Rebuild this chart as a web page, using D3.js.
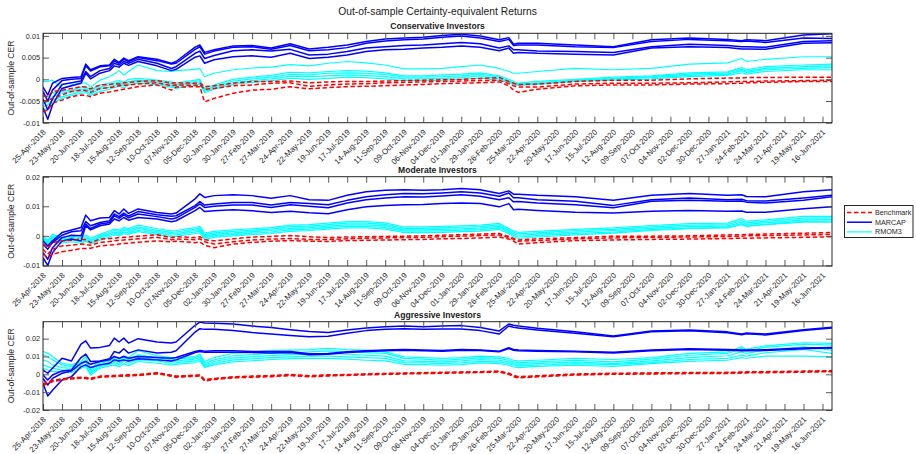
<!DOCTYPE html>
<html>
<head>
<meta charset="utf-8">
<script src="https://cdn.jsdelivr.net/npm/d3@7"></script>
<style>
  html, body { margin: 0; padding: 0; background: #fff; }
  svg { display: block; font-family: "Liberation Sans", Arial, Helvetica, sans-serif; }
</style>
</head>
<body>
<svg id="chart" width="916" height="454"></svg>
<script>
// Observation dates shared by every series
const dates = [
  "2018-04-25","2018-05-02","2018-05-09","2018-05-23","2018-06-06","2018-06-20","2018-06-27","2018-07-04","2018-07-18","2018-08-01",
  "2018-08-08","2018-08-15","2018-08-22","2018-08-29","2018-09-12","2018-10-10","2018-10-31","2018-11-07","2018-12-05","2018-12-12",
  "2018-12-19","2019-01-02","2019-01-30","2019-02-27","2019-03-27","2019-04-24","2019-05-22","2019-06-19","2019-07-17","2019-08-14",
  "2019-09-11","2019-10-09","2019-11-06","2019-12-04","2020-01-01","2020-01-29","2020-02-26","2020-03-11","2020-03-18","2020-03-25",
  "2020-04-22","2020-06-17","2020-08-12","2020-10-07","2020-12-02","2021-01-27","2021-02-17","2021-02-24","2021-03-24","2021-05-19",
  "2021-06-30"
];

// Date axis ticks (every four weeks)
const tickDates = [
  "2018-04-25","2018-05-23","2018-06-20","2018-07-18","2018-08-15","2018-09-12","2018-10-10","2018-11-07","2018-12-05","2019-01-02",
  "2019-01-30","2019-02-27","2019-03-27","2019-04-24","2019-05-22","2019-06-19","2019-07-17","2019-08-14","2019-09-11","2019-10-09",
  "2019-11-06","2019-12-04","2020-01-01","2020-01-29","2020-02-26","2020-03-25","2020-04-22","2020-05-20","2020-06-17","2020-07-15",
  "2020-08-12","2020-09-09","2020-10-07","2020-11-04","2020-12-02","2020-12-30","2021-01-27","2021-02-24","2021-03-24","2021-04-21",
  "2021-05-19","2021-06-16"
];

// CER values are stored in units of 1e-3
const UNIT = 1e-3;

// ---------- Conservative investors ----------
const consBenchmark = [
  [-3.8,-4.0,-2.8,-2.5,-2.1,-1.7,-1.8,-2.2,-1.3,-1.2,
   -1.0,-1.1,-0.8,-0.7,-0.5,-0.3,-0.9,-0.8,-0.9,-0.9,
   -1.7,-1.5,-0.9,-0.5,-0.5,-0.4,-0.8,-0.6,-0.5,-0.5,
   -0.4,-0.3,-0.2,-0.1,0.0,0.2,0.4,-0.5,-0.9,-1.2,
   -1.1,-0.5,-0.2,-0.2,0.1,0.3,0.3,0.4,0.4,0.5,
   0.5],
  [-5.0,-4.9,-4.4,-3.6,-2.8,-2.5,-2.6,-3.0,-2.1,-1.9,
   -1.7,-1.5,-1.4,-1.3,-1.1,-0.8,-1.5,-1.3,-1.4,-1.3,
   -2.3,-2.1,-1.5,-1.3,-0.9,-0.8,-1.6,-1.3,-1.1,-1.0,
   -0.8,-0.7,-0.6,-0.5,-0.4,-0.3,-0.2,-1.0,-1.5,-1.8,
   -1.8,-1.1,-0.9,-0.9,-0.8,-0.6,-0.5,-0.5,-0.4,-0.3,
   -0.2],
  [-7.5,-7.1,-5.5,-4.8,-4.0,-3.6,-3.7,-4.0,-3.2,-2.9,
   -2.7,-2.5,-2.3,-2.1,-1.7,-1.3,-2.5,-1.8,-1.7,-1.7,
   -5.2,-4.4,-3.2,-2.5,-2.3,-1.7,-2.2,-1.9,-1.7,-1.6,
   -1.5,-1.3,-1.2,-1.0,-0.9,-0.8,-0.6,-1.5,-2.5,-3.0,
   -2.3,-1.5,-1.3,-1.3,-1.1,-1.0,-0.9,-0.8,-0.7,-0.5,
   -0.5]
];
const consMarcap = [
  [-1.8,-3.6,-0.9,0.2,0.4,0.6,3.5,2.2,3.1,3.3,
   4.6,3.9,4.9,4.3,5.2,4.6,3.7,4.1,7.4,7.9,
   6.2,6.8,7.7,7.8,7.2,8.2,7.0,7.4,7.9,8.7,
   9.3,9.5,9.7,10.1,10.4,10.0,9.1,9.6,8.1,8.3,
   8.3,7.9,7.5,9.1,9.5,9.2,8.9,9.1,8.9,10.2,
   10.5],
  [-2.8,-5.0,-2.5,-0.3,0.0,0.2,3.1,1.9,2.9,3.1,
   4.2,3.7,4.6,4.1,5.0,4.3,3.5,3.7,6.9,7.5,
   5.8,6.5,7.4,7.5,6.9,7.8,6.6,6.8,7.3,8.3,
   8.8,9.1,9.3,9.7,10.0,9.5,8.7,9.2,7.8,7.9,
   7.9,7.5,7.3,8.7,9.2,8.9,8.7,8.8,8.5,9.5,
   9.4],
  [-4.5,-7.0,-4.5,-1.2,-0.8,-0.4,1.8,0.6,2.0,2.5,
   3.7,3.3,4.1,3.7,4.6,3.7,2.5,2.9,6.0,6.5,
   4.8,5.5,6.6,6.8,6.5,6.9,5.6,5.8,6.4,7.2,
   7.5,7.8,7.9,8.2,8.5,8.2,7.2,7.7,6.8,6.8,
   6.5,6.4,6.2,7.5,8.1,7.8,7.5,7.5,7.4,8.7,
   8.9],
  [-6.5,-9.2,-5.9,-2.1,-1.5,-0.9,1.4,0.1,1.4,2.0,
   3.1,2.8,3.7,3.2,4.1,3.1,2.0,2.3,5.1,5.4,
   3.7,4.5,5.2,5.4,5.1,6.0,4.8,5.1,5.6,6.4,
   6.8,6.9,7.2,7.4,7.7,7.4,6.6,7.2,6.0,6.2,
   6.0,5.8,5.6,7.2,7.5,7.3,7.0,7.0,6.9,8.3,
   8.4]
];
const consRmom = [
  [-0.5,-0.5,-0.2,-2.1,-1.3,-0.9,-0.8,-1.8,-0.2,0.6,
   1.2,2.0,1.0,1.8,3.3,2.0,1.8,2.0,2.3,2.5,
   0.6,1.4,2.2,2.6,2.8,3.4,3.1,3.7,4.1,3.8,
   3.3,2.4,2.4,2.5,2.9,3.3,2.5,1.8,1.4,1.4,
   1.8,2.5,2.2,2.5,3.5,3.8,4.8,4.1,4.6,5.2,
   5.2],
  [-4.0,-4.0,-3.2,-2.8,-2.5,-1.8,-1.7,-2.5,-1.3,-0.9,
   -0.5,-0.3,-0.7,0.0,0.2,-0.2,-0.6,-0.9,-0.2,0.0,
   -2.1,-1.3,0.0,0.5,0.9,1.6,1.5,1.8,2.0,1.9,
   1.5,0.8,0.8,1.0,1.2,1.5,0.8,0.0,-0.5,-0.9,
   -0.5,0.0,0.5,0.8,1.5,1.7,2.7,2.2,2.9,3.3,
   3.5],
  [-5.5,-5.2,-4.0,-3.2,-2.8,-2.3,-2.2,-2.8,-1.8,-1.3,
   -0.9,-0.7,-1.1,-0.5,-0.2,-0.5,-1.0,-1.3,-0.5,-0.3,
   -2.5,-1.7,-0.4,0.1,0.5,1.1,1.0,1.4,1.5,1.4,
   1.1,0.5,0.5,0.6,0.8,1.2,0.5,-0.3,-0.8,-1.1,
   -0.8,-0.2,0.2,0.6,1.2,1.5,2.3,1.9,2.5,2.9,
   3.1],
  [-6.3,-5.9,-4.8,-4.0,-3.4,-2.8,-2.7,-3.4,-2.3,-1.8,
   -1.4,-1.1,-1.5,-0.9,-0.5,-0.9,-1.4,-1.7,-0.8,-0.8,
   -2.8,-2.1,-0.8,-0.3,0.1,0.7,0.6,0.8,1.0,0.9,
   0.6,0.1,0.1,0.2,0.4,0.8,0.1,-0.5,-0.9,-1.2,
   -1.0,-0.3,0.1,0.4,0.9,1.2,2.0,1.6,2.2,2.5,
   2.7],
  [-7.1,-6.7,-5.5,-4.4,-3.8,-3.2,-3.1,-3.7,-2.8,-2.3,
   -1.9,-1.6,-2.0,-1.3,-0.9,-1.3,-1.8,-2.1,-1.2,-1.2,
   -3.1,-2.3,-1.2,-0.7,-0.3,0.2,0.0,0.2,0.5,0.4,
   0.1,-0.3,-0.3,-0.2,0.0,0.3,-0.3,-0.7,-1.2,-1.4,
   -1.2,-0.5,-0.2,0.1,0.6,0.9,1.5,1.2,1.8,2.2,
   2.2]
];

// ---------- Moderate investors ----------
const modBenchmark = [
  [-2.8,-4.0,-2.3,-1.7,-1.5,-1.1,-1.3,-2.3,-1.1,-0.9,
   -0.8,-0.6,-0.5,-0.4,-0.1,0.4,-0.6,-0.3,-0.6,-0.3,
   -1.3,-1.7,-1.0,-0.4,-0.2,0.1,-0.3,-0.6,-0.4,-0.3,
   -0.2,-0.1,0.0,0.2,0.4,0.6,0.8,-0.2,-0.9,-1.4,
   -1.0,-0.6,-0.1,-0.1,0.0,0.3,0.4,0.5,0.6,0.9,
   1.1],
  [-4.5,-6.2,-4.5,-3.4,-3.2,-2.8,-2.9,-3.2,-2.2,-1.9,
   -1.7,-1.5,-1.4,-1.3,-1.0,-0.5,-1.3,-1.1,-1.3,-1.0,
   -2.0,-2.8,-2.0,-1.4,-1.1,-0.9,-1.2,-1.2,-1.0,-0.8,
   -0.7,-0.6,-0.5,-0.3,-0.1,0.1,0.3,-0.6,-1.2,-1.8,
   -1.6,-1.0,-0.7,-0.5,-0.4,-0.2,-0.1,0.0,0.1,0.3,
   0.5],
  [-6.2,-7.4,-6.2,-5.4,-4.9,-4.3,-4.3,-4.2,-3.4,-3.1,
   -3.0,-2.8,-2.6,-2.5,-2.2,-1.7,-2.0,-1.8,-2.3,-2.0,
   -3.2,-4.0,-2.8,-2.2,-1.8,-1.6,-1.8,-1.9,-1.6,-1.5,
   -1.4,-1.3,-1.2,-1.0,-0.9,-0.7,-0.4,-1.1,-1.8,-2.8,
   -2.3,-1.6,-1.4,-1.2,-1.1,-0.9,-0.8,-0.8,-0.7,-0.5,
   -0.3]
];
const modMarcap = [
  [-1.7,-3.4,-1.7,1.1,2.0,2.8,7.0,5.1,6.0,6.2,
   8.5,7.4,9.1,7.6,9.1,7.9,7.4,7.7,12.5,14.2,
   13.0,13.6,13.9,13.6,12.7,13.6,12.2,12.0,13.7,14.9,
   15.4,15.6,15.4,15.6,16.0,15.6,14.3,15.2,14.1,14.1,
   13.7,13.2,12.0,13.7,14.3,13.7,13.9,13.3,13.2,14.9,
   15.6],
  [-2.8,-4.5,-2.3,0.2,1.4,1.7,4.8,3.4,4.5,5.1,
   7.4,6.5,7.7,6.7,8.2,7.1,6.6,6.8,10.2,11.6,
   10.4,10.8,11.3,11.3,10.4,11.3,10.9,10.5,12.0,13.2,
   13.9,14.3,14.2,14.5,14.9,14.5,13.4,14.5,12.9,12.9,
   12.2,11.7,10.3,12.2,12.8,12.2,12.4,11.9,11.8,12.8,
   13.7],
  [-5.7,-7.9,-4.0,-0.6,0.2,0.0,4.0,2.5,4.0,4.5,
   6.8,5.9,7.1,6.1,7.4,6.5,5.7,6.0,9.6,10.8,
   9.6,10.0,10.4,10.4,9.6,10.5,10.0,9.5,11.1,12.2,
   12.8,13.2,13.1,13.5,13.9,13.4,12.2,12.9,11.5,11.6,
   11.1,10.5,9.5,11.7,12.0,11.7,11.8,11.4,11.1,12.0,
   13.2],
  [-7.4,-10.0,-5.7,-1.7,-1.1,-1.7,3.4,2.0,3.4,4.0,
   5.7,5.1,6.2,5.3,6.2,5.7,4.8,5.1,8.5,9.6,
   8.2,8.5,8.8,8.5,7.9,8.3,7.8,7.5,8.8,9.8,
   10.3,10.5,10.6,10.9,11.1,10.9,9.8,10.9,8.8,9.0,
   8.6,8.0,7.7,8.3,8.6,8.3,8.4,8.0,8.0,9.2,
   9.8]
];
const modRmom = [
  [0.0,-1.5,0.5,-0.5,0.0,-0.5,0.3,-0.8,0.5,1.7,
   2.3,2.0,2.8,2.5,3.6,2.4,1.7,1.8,2.8,3.2,
   0.9,1.5,2.0,2.4,2.8,3.6,3.8,4.3,4.8,4.8,
   4.4,3.0,3.0,3.2,3.4,3.6,4.2,2.5,1.7,1.2,
   1.5,2.2,2.7,3.5,4.1,4.3,5.8,5.0,5.4,6.6,
   6.6],
  [-0.3,-2.0,0.0,-1.0,-0.5,-1.0,-0.3,-1.3,0.0,1.2,
   1.8,1.5,2.3,2.0,3.0,1.9,1.2,1.3,2.3,2.6,
   0.3,1.0,1.5,1.9,2.3,3.1,3.3,3.8,4.3,4.3,
   3.9,2.5,2.5,2.7,2.9,3.1,3.7,2.0,1.2,0.7,
   1.0,1.8,2.2,3.0,3.6,3.8,5.2,4.4,4.9,6.0,
   6.1],
  [-0.6,-2.5,-0.5,-1.5,-1.0,-1.5,-0.8,-1.7,-0.5,0.7,
   1.3,1.0,1.8,1.5,2.5,1.4,0.7,0.8,1.8,2.1,
   -0.2,0.5,1.0,1.4,1.8,2.5,2.8,3.3,3.7,3.7,
   3.4,2.0,2.0,2.2,2.4,2.6,3.2,1.6,0.7,0.2,
   0.6,1.3,1.8,2.5,3.1,3.3,4.6,3.9,4.4,5.4,
   5.5],
  [-0.9,-3.0,-1.0,-2.0,-1.5,-2.0,-1.3,-2.2,-1.0,0.2,
   0.8,0.5,1.2,1.0,1.9,0.9,0.2,0.3,1.3,1.6,
   -0.7,0.0,0.5,0.9,1.3,2.0,2.3,2.8,3.2,3.2,
   2.8,1.6,1.6,1.7,1.9,2.1,2.7,1.1,0.2,-0.4,
   0.1,0.8,1.3,2.1,2.6,2.9,4.1,3.4,3.9,4.9,
   5.0],
  [-1.2,-3.5,-1.5,-2.5,-2.0,-2.5,-1.8,-2.7,-1.5,-0.3,
   0.3,0.0,0.7,0.5,1.4,0.4,-0.3,-0.2,0.8,1.0,
   -1.2,-0.5,0.0,0.4,0.8,1.5,1.8,2.3,2.7,2.7,
   2.3,1.1,1.1,1.2,1.4,1.6,2.2,0.6,-0.3,-0.9,
   -0.4,0.3,0.9,1.8,2.4,2.7,3.8,3.2,3.8,4.6,
   4.6]
];

// ---------- Aggressive investors ----------
const aggBenchmark = [
  [-5.5,-4.2,-3.5,-2.5,-2.0,-1.6,-1.8,-2.3,-1.0,-0.8,
   -0.6,-0.5,-0.4,-0.3,-0.1,0.9,-0.5,-1.0,-0.5,-0.3,
   -2.9,-2.3,-1.4,-1.0,-0.7,-0.1,-0.8,-0.3,-0.1,0.2,
   0.5,0.7,0.9,1.1,1.3,1.5,1.8,0.6,-0.5,-1.3,
   -0.8,0.2,0.6,0.8,1.0,1.1,1.3,1.4,1.5,1.8,
   2.1],
  [-6.0,-4.5,-3.8,-2.8,-2.3,-1.9,-2.1,-2.6,-1.3,-1.1,
   -0.9,-0.8,-0.7,-0.6,-0.4,0.6,-0.8,-1.3,-0.8,-0.6,
   -3.2,-2.6,-1.7,-1.3,-1.0,-0.4,-1.1,-0.6,-0.3,0.0,
   0.3,0.5,0.7,0.9,1.1,1.3,1.6,0.3,-0.9,-1.7,
   -1.1,-0.1,0.3,0.5,0.7,0.8,1.0,1.1,1.2,1.5,
   1.8],
  [-6.4,-4.9,-4.2,-3.1,-2.6,-2.2,-2.4,-2.9,-1.6,-1.4,
   -1.2,-1.1,-1.0,-0.9,-0.7,0.3,-1.1,-1.6,-1.1,-0.9,
   -3.8,-2.9,-2.0,-1.6,-1.3,-0.7,-1.4,-0.9,-0.6,-0.3,
   0.0,0.2,0.4,0.6,0.8,1.0,1.3,0.0,-1.3,-2.0,
   -1.4,-0.4,0.0,0.2,0.4,0.5,0.7,0.8,0.9,1.2,
   1.5]
];
const aggMarcap = [
  [2.4,0.6,3.4,9.0,7.5,16.9,18.8,14.7,15.1,16.2,
   20.3,18.1,20.3,17.5,20.0,18.1,17.5,18.1,27.5,29.3,
   28.8,28.7,28.2,27.1,26.2,25.0,24.0,23.4,24.9,26.0,
   26.7,27.1,26.7,27.1,27.3,26.2,24.3,28.2,27.5,27.1,
   25.8,23.9,21.5,24.3,24.9,23.8,22.6,23.2,22.6,25.0,
   26.4],
  [-0.4,-3.2,-0.4,1.9,2.4,9.4,11.3,7.2,7.5,8.7,
   12.8,11.9,14.3,11.9,13.7,11.9,12.4,13.2,23.7,25.6,
   25.2,25.2,24.5,23.4,22.6,21.8,21.1,21.3,23.0,24.5,
   25.2,25.6,25.2,25.4,25.4,24.5,22.6,27.1,26.4,26.0,
   24.9,23.0,21.1,23.8,24.4,23.3,22.2,22.7,22.1,24.6,
   26.0],
  [-2.3,-6.0,-2.3,0.6,1.9,6.2,7.2,5.6,7.2,8.1,
   10.0,9.0,10.0,9.0,10.0,9.4,9.0,9.4,12.8,13.4,
   13.0,13.2,13.2,12.8,12.8,12.8,11.5,11.7,12.6,13.2,
   13.6,13.9,13.6,13.4,13.9,13.7,13.0,14.9,13.9,13.6,
   13.4,13.0,12.4,13.6,14.3,13.9,13.6,13.6,13.8,14.7,
   15.1],
  [-5.1,-12.1,-8.9,-3.2,-1.3,4.3,5.3,3.8,5.3,6.2,
   8.1,7.5,8.1,7.5,8.7,8.1,7.5,8.1,12.2,12.8,
   12.4,12.4,12.4,12.2,12.0,12.2,11.0,11.3,12.2,12.8,
   13.2,13.5,13.2,13.0,13.5,13.3,12.6,14.5,13.5,13.2,
   13.0,12.6,12.0,13.2,13.9,13.5,13.2,13.2,13.4,14.3,
   14.7]
];
const aggRmom = [
  [12.8,11.9,10.0,6.2,5.3,7.2,10.0,3.4,7.2,8.7,
   10.0,8.1,10.5,9.4,13.2,10.5,9.4,9.4,10.0,11.3,
   7.2,9.4,11.8,12.4,13.5,13.6,13.9,14.5,13.9,13.6,
   12.6,9.8,9.4,8.9,9.4,10.2,9.8,8.9,7.9,7.5,
   7.9,8.9,8.3,9.4,11.7,12.6,15.4,14.1,16.0,17.7,
   17.3],
  [10.9,10.0,8.1,5.3,4.3,6.2,8.1,2.4,6.2,7.5,
   9.0,7.2,9.4,8.1,10.9,9.4,8.1,8.5,9.4,10.4,
   6.2,8.1,10.4,11.0,11.9,12.0,12.6,13.2,12.6,12.2,
   11.7,8.9,8.5,7.9,8.5,9.2,8.9,7.9,7.0,6.6,
   7.0,7.9,7.0,8.5,10.7,11.7,14.5,13.2,15.1,16.9,
   16.4],
  [8.1,7.2,5.3,3.8,3.4,5.3,7.2,1.5,5.3,6.6,
   7.5,6.2,8.1,7.2,9.4,8.5,7.2,7.5,8.5,9.4,
   5.3,7.2,9.2,9.8,10.5,11.0,11.3,11.7,11.3,10.7,
   10.2,7.5,7.3,7.0,7.5,8.3,7.9,7.0,6.0,5.6,
   6.0,7.0,6.0,7.5,9.4,10.4,12.6,11.7,13.6,15.4,
   13.6],
  [5.3,4.3,3.4,2.4,2.4,4.3,5.3,0.6,4.3,5.6,
   6.6,5.3,7.2,6.2,8.1,7.5,6.2,6.6,7.5,8.5,
   4.3,6.2,8.1,8.7,9.4,9.8,10.2,10.2,9.8,9.4,
   8.9,6.6,6.4,6.0,6.4,7.3,7.0,6.0,5.1,4.7,
   5.1,6.0,5.4,6.6,8.3,8.9,10.7,10.2,12.1,13.9,
   11.7],
  [3.4,2.4,1.5,1.5,1.1,3.4,4.3,-0.4,3.4,4.7,
   5.3,4.3,5.8,4.9,7.2,6.2,5.3,5.6,6.6,7.5,
   3.8,5.3,7.0,7.6,8.3,8.8,8.9,8.9,8.5,7.9,
   7.5,5.6,5.4,5.1,5.4,6.4,6.0,5.1,4.1,3.8,
   4.5,5.1,4.5,6.0,7.3,7.9,9.4,9.0,10.2,10.2,
   9.8]
];

// Text
const mainTitle = "Out-of-sample Certainty-equivalent Returns";
const panelTitles = ["Conservative Investors", "Moderate Investors", "Aggressive Investors"];
const yLabel = "Out-of-sample CER";
const legendLabels = ["Benchmark", "MARCAP", "RMOM3"];
const yTickSets = [
  [-0.01, -0.005, 0, 0.005, 0.01],
  [-0.01, 0, 0.01, 0.02],
  [-0.02, -0.01, 0, 0.01, 0.02]
];
const yDomains = [[-0.01, 0.0106], [-0.0102, 0.02], [-0.02, 0.0295]];

// ---------- drawing ----------
const svg = d3.select("#chart");
const parse = d3.timeParse("%Y-%m-%d");
const fmtDate = d3.timeFormat("%d-%b-%Y");
const xDates = dates.map(parse);
const xTicks = tickDates.map(parse);

const left = 43, right = 832;
const bands = [[33.3, 122.7], [176.7, 266], [321.7, 410]];
const axisColor = "#262626";
const tickColor = "#5a5a5a";

const x = d3.scaleTime()
  .domain([parse("2018-04-25"), parse("2021-06-30")])
  .range([left, right]);

const fmtY = v => String(+v.toFixed(4));

svg.append("text")
  .attr("x", (left + right) / 2).attr("y", 14.5)
  .attr("text-anchor", "middle")
  .attr("font-size", "10.3px").attr("fill", "#1a1a1a")
  .text(mainTitle);

const groups = [
  [consBenchmark, consMarcap, consRmom],
  [modBenchmark, modMarcap, modRmom],
  [aggBenchmark, aggMarcap, aggRmom]
];

const styles = {
  bench: { color: "#ff0000", width: 1.5, dash: "4.5,2.5" },
  marcap: { color: "#0000ff", width: 1.5, dash: null },
  rmom: { color: "#00ffff", width: 1.2, dash: null }
};

groups.forEach((grp, p) => {
  const [top, bottom] = bands[p];
  const y = d3.scaleLinear().domain(yDomains[p]).range([bottom, top]);
  const g = svg.append("g");

  g.append("defs").append("clipPath").attr("id", "clip" + p)
    .append("rect").attr("x", left).attr("y", top)
    .attr("width", right - left).attr("height", bottom - top);

  const line = d3.line()
    .x((d, i) => x(xDates[i]))
    .y(d => y(d * UNIT));

  const plotG = g.append("g").attr("clip-path", `url(#clip${p})`);
  const drawSet = (set, st) => {
    set.forEach(series => {
      plotG.append("path")
        .datum(series)
        .attr("fill", "none")
        .attr("stroke", st.color)
        .attr("stroke-width", st.width)
        .attr("stroke-linejoin", "round")
        .attr("stroke-dasharray", st.dash)
        .attr("d", line);
    });
  };
  drawSet(grp[2], styles.rmom);
  drawSet(grp[1], styles.marcap);
  drawSet(grp[0], styles.bench);

  // bottom axis with rotated date labels
  const xAxis = g.append("g")
    .attr("transform", `translate(0,${bottom})`)
    .call(d3.axisBottom(x).tickValues(xTicks).tickFormat(fmtDate)
      .tickSizeInner(-6).tickSizeOuter(0).tickPadding(0));
  xAxis.select(".domain").remove();
  xAxis.selectAll(".tick line").attr("stroke", tickColor);
  xAxis.selectAll(".tick text")
    .attr("y", 0).attr("x", 0).attr("dy", "0.35em")
    .attr("transform", "translate(1,8) rotate(-45)")
    .attr("text-anchor", "end")
    .attr("font-size", "7.9px")
    .attr("font-family", "Liberation Sans, Arial, sans-serif")
    .attr("fill", "#262626");

  // top axis (ticks only)
  const xTop = g.append("g")
    .attr("transform", `translate(0,${top})`)
    .call(d3.axisTop(x).tickValues(xTicks).tickFormat("")
      .tickSizeInner(-6).tickSizeOuter(0));
  xTop.select(".domain").remove();
  xTop.selectAll(".tick line").attr("stroke", tickColor);

  // left axis
  const yAxis = g.append("g")
    .attr("transform", `translate(${left},0)`)
    .call(d3.axisLeft(y).tickValues(yTickSets[p]).tickFormat(fmtY)
      .tickSizeInner(-6).tickSizeOuter(0).tickPadding(3));
  yAxis.select(".domain").remove();
  yAxis.selectAll(".tick line").attr("stroke", tickColor);
  yAxis.selectAll(".tick text")
    .attr("font-size", "7.3px")
    .attr("font-family", "Liberation Sans, Arial, sans-serif")
    .attr("fill", "#262626");

  // right axis (ticks only)
  const yRight = g.append("g")
    .attr("transform", `translate(${right},0)`)
    .call(d3.axisRight(y).tickValues(yTickSets[p]).tickFormat("")
      .tickSizeInner(-6).tickSizeOuter(0));
  yRight.select(".domain").remove();
  yRight.selectAll(".tick line").attr("stroke", tickColor);

  // frame
  g.append("rect")
    .attr("x", left).attr("y", top)
    .attr("width", right - left).attr("height", bottom - top)
    .attr("fill", "none").attr("stroke", axisColor).attr("stroke-width", 1);

  // panel title
  g.append("text")
    .attr("x", (left + right) / 2).attr("y", top - 4)
    .attr("text-anchor", "middle")
    .attr("font-size", "8.6px").attr("font-weight", "bold").attr("fill", "#1a1a1a")
    .text(panelTitles[p]);

  // y label
  g.append("text")
    .attr("transform", `translate(14,${(top + bottom) / 2}) rotate(-90)`)
    .attr("text-anchor", "middle")
    .attr("font-size", "8.6px").attr("fill", "#262626")
    .text(yLabel);
});

// legend
const legendStyles = [styles.bench, styles.marcap, styles.rmom];
const lg = svg.append("g");
lg.append("rect")
  .attr("x", 844.5).attr("y", 205.5).attr("width", 68.5).attr("height", 32)
  .attr("fill", "#fff").attr("stroke", axisColor).attr("stroke-width", 1);
legendLabels.forEach((lab, i) => {
  const yy = 212.5 + i * 9.7;
  lg.append("line")
    .attr("x1", 847).attr("x2", 872).attr("y1", yy).attr("y2", yy)
    .attr("stroke", legendStyles[i].color)
    .attr("stroke-width", legendStyles[i].width)
    .attr("stroke-dasharray", legendStyles[i].dash);
  lg.append("text")
    .attr("x", 875).attr("y", yy).attr("dy", "0.35em")
    .attr("font-size", "7.2px").attr("fill", "#262626")
    .text(lab);
});
</script>
</body>
</html>
